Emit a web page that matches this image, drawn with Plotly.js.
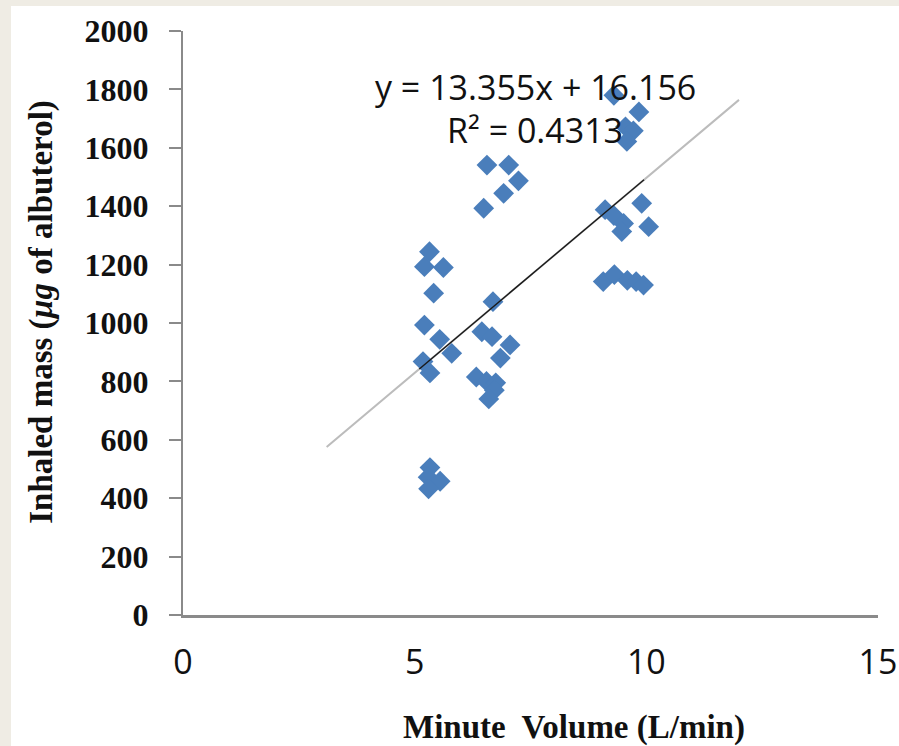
<!DOCTYPE html>
<html>
<head>
<meta charset="utf-8">
<script src="https://cdn.plot.ly/plotly-3.0.1.min.js"></script>
<style>
  html, body { margin: 0; padding: 0; background: #efece4; width: 899px; height: 746px; overflow: hidden; }
  #chart { position: absolute; left: 11px; top: 6px; width: 888px; height: 740px; background: #ffffff; }
</style>
</head>
<body>
<div id="chart"></div>
<script>
// Minute volume (L/min)
const minuteVolume = [
  5.32, 5.21, 5.62, 5.41, 5.21, 5.54, 5.80, 5.18, 5.33,
  5.33, 5.29, 5.55, 5.30,
  6.56, 7.03, 7.24, 6.92, 6.49, 6.69, 6.45, 6.67, 7.06, 6.85,
  6.33, 6.55, 6.75, 6.72, 6.60,
  9.30, 9.84, 9.55, 9.72, 9.58, 9.11, 9.30, 9.90, 9.51, 9.47, 10.05,
  9.07, 9.31, 9.59, 9.78, 9.94
];
// Inhaled mass (µg of albuterol)
const inhaledMass = [
  1244, 1193, 1190, 1102, 993, 944, 896, 868, 829,
  505, 472, 458, 432,
  1541, 1541, 1487, 1444, 1393, 1073, 970, 953, 925, 880,
  815, 800, 795, 770, 740,
  1780, 1723, 1672, 1658, 1622, 1388, 1368, 1410, 1341, 1313, 1330,
  1142, 1166, 1146, 1142, 1130
];
// Linear trend line (as drawn on the chart)
const trendSlope = 133.55;
const trendIntercept = 161.56;
const trendExtendedX = [3.1, 12.0];
const trendDataRangeX = [5.1, 9.95];
const equationText = "y = 13.355x + 16.156";
const r2Text = "R\u00B2 = 0.4313";
const xTitle = "Minute  Volume (L/min)";
const yTitle = "Inhaled mass (<i>\u00B5g</i> of albuterol)";
const xTicks = [0, 5, 10, 15];
const yTicks = [0, 200, 400, 600, 800, 1000, 1200, 1400, 1600, 1800, 2000];

const lineY = xs => xs.map(x => trendSlope * x + trendIntercept);

const traces = [
  {
    x: trendExtendedX, y: lineY(trendExtendedX),
    mode: 'lines', type: 'scatter', hoverinfo: 'skip',
    line: { color: '#bcbcbc', width: 2 }
  },
  {
    x: minuteVolume, y: inhaledMass,
    mode: 'markers', type: 'scatter',
    marker: { symbol: 'diamond', size: 16, color: '#4a7ebb', line: { width: 0 } }
  },
  {
    x: trendDataRangeX, y: lineY(trendDataRangeX),
    mode: 'lines', type: 'scatter', hoverinfo: 'skip',
    line: { color: '#1a1a1a', width: 1.4 }
  }
];

const titleFont = { family: 'Liberation Serif, serif', size: 33, color: '#111111', weight: 'bold' };

const layout = {
  width: 888, height: 740,
  paper_bgcolor: '#ffffff', plot_bgcolor: '#ffffff',
  showlegend: false,
  margin: { l: 172, r: 21, t: 25, b: 131 },
  xaxis: {
    range: [0, 15], tickvals: xTicks, ticktext: xTicks.map(String),
    showgrid: false, zeroline: false, showline: true,
    linecolor: '#8a8a8a', linewidth: 2.5, ticks: '',
    ticklabelstandoff: 16,
    tickfont: { family: 'Open Sans, sans-serif', size: 34, color: '#111111' }
  },
  yaxis: {
    range: [0, 2000], tickvals: yTicks, ticktext: yTicks.map(String),
    showgrid: false, zeroline: false, showline: true,
    linecolor: '#8a8a8a', linewidth: 2, ticks: 'outside', ticklen: 12, tickwidth: 2, tickcolor: '#8a8a8a',
    ticklabelstandoff: 14,
    tickfont: { family: 'Liberation Serif, serif', size: 32, color: '#111111', weight: 'bold' }
  },
  annotations: [
    { x: 7.6, y: 1808, xref: 'x', yref: 'y', text: equationText, showarrow: false,
      font: { family: 'Open Sans, sans-serif', size: 34, color: '#111111' } },
    { x: 7.6, y: 1662, xref: 'x', yref: 'y', text: r2Text, showarrow: false,
      font: { family: 'Open Sans, sans-serif', size: 34, color: '#111111' } },
    { x: 0.563, y: -0.193, xref: 'paper', yref: 'paper', text: xTitle, showarrow: false,
      xanchor: 'center', yanchor: 'middle', font: titleFont },
    { x: -0.203, y: 0.519, xref: 'paper', yref: 'paper', text: yTitle, showarrow: false,
      textangle: -90, xanchor: 'center', yanchor: 'middle', font: titleFont }
  ]
};

Plotly.newPlot('chart', traces, layout, { staticPlot: true, displayModeBar: false });
</script>
</body>
</html>
